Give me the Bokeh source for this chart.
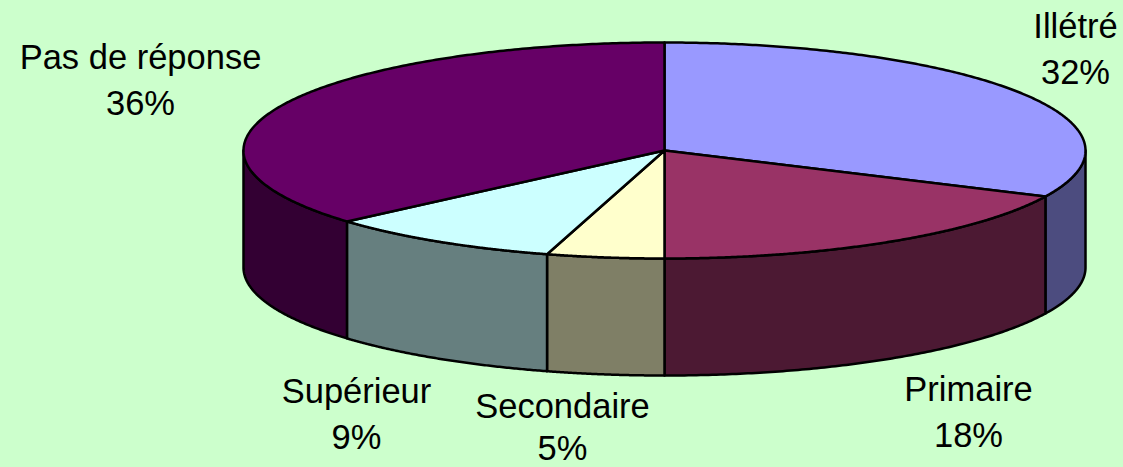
import numpy as np
from bokeh.core.properties import value
from bokeh.embed import file_html
from bokeh.models import Range1d
from bokeh.plotting import figure
from bokeh.resources import INLINE

# Data
categories = ["Illétré", "Primaire", "Secondaire", "Supérieur", "Pas de réponse"]
shares = [32.0, 18.0, 4.5, 9.1, 36.4]
share_labels = ["32%", "18%", "5%", "9%", "36%"]

# Styling
top_colors = ["#9999FF", "#993366", "#FFFFCC", "#CCFFFF", "#660066"]
side_colors = ["#4C4C7F", "#4C1933", "#7F7F66", "#667F7F", "#330033"]
BG = "#CCFFCC"
FONT = "Liberation Sans"
FONT_SIZE = "34.5px"

# Layout of the tilted pie (page pixels)
CX, CY, RX, RY, DEPTH = 664.0, 150.0, 421.0, 108.0, 117.0
label_x = [1075, 968, 562, 356, 140]
name_base = [25, 388, 405, 390, 56]
pct_base = [71, 434, 447, 436, 102]

p = figure(width=1123, height=467, x_range=Range1d(0, 1123), y_range=Range1d(467, 0),
           output_backend="svg", toolbar_location=None, background_fill_color=BG,
           border_fill_color=BG, outline_line_color=None, min_border=0)
p.axis.visible = False
p.grid.visible = False


def rim(a):
    return CX + RX * np.sin(a), CY - RY * np.cos(a)


edges = np.concatenate([[0.0], np.cumsum(shares)]) / np.sum(shares) * 2 * np.pi

# Outer wall: only the part on the front half of the pie is visible
for i in range(len(shares)):
    a0 = max(edges[i], np.pi / 2)
    a1 = min(edges[i + 1], 3 * np.pi / 2)
    if a1 <= a0:
        continue
    a = np.linspace(a0, a1, 120)
    x, y = rim(a)
    xs = np.concatenate([x, x[::-1]])
    ys = np.concatenate([y, y[::-1] + DEPTH])
    p.patch(xs, ys, fill_color=side_colors[i], line_color="black", line_width=2.5, line_join="round")

# Top face
for i in range(len(shares)):
    a = np.linspace(edges[i], edges[i + 1], 240)
    x, y = rim(a)
    p.patch(np.concatenate([[CX], x]), np.concatenate([[CY], y]),
            fill_color=top_colors[i], line_color="black", line_width=2.5, line_join="round")

# Labels
for rows, texts in ((name_base, categories), (pct_base, share_labels)):
    p.text(x=label_x, y=rows, text=texts, text_font=value(FONT), text_font_size=value(FONT_SIZE),
           text_color="black", text_align="center", text_baseline="alphabetic")

html = file_html(p, INLINE)
html = html.replace("<head>", f"<head><style>html,body{{background:{BG};}}</style>", 1)
open("out.html", "w").write(html)
